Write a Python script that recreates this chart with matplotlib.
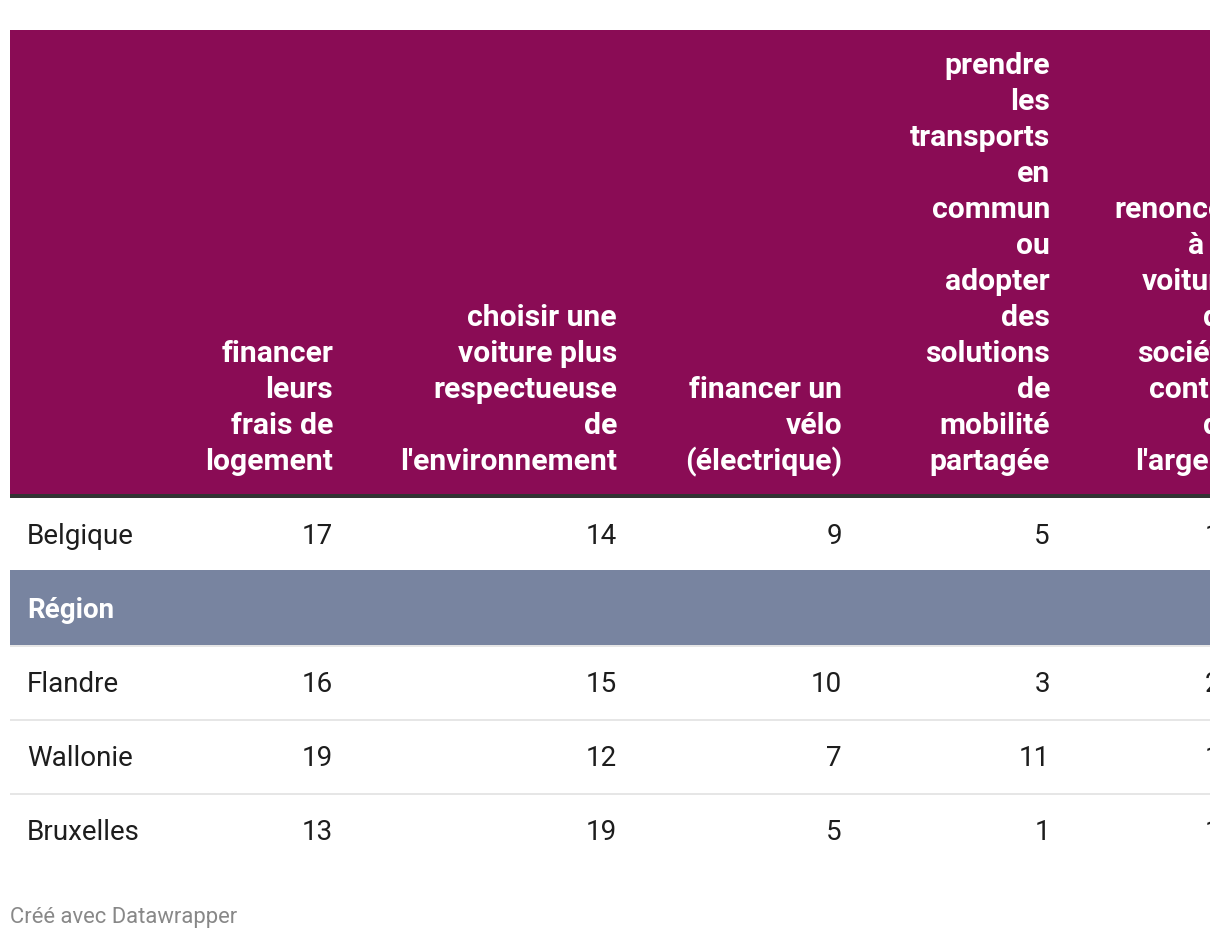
#Datawrapper-style table: share (%) per region, cut at the right edge like the original
import matplotlib.pyplot as plt
from matplotlib.patches import Rectangle

plt.rcParams['font.family'] = ['Roboto', 'DejaVu Sans']

#data:
headers = [
    ["financer", "leurs", "frais de", "logement"],
    ["choisir une", "voiture plus", "respectueuse", "de", "l'environnement"],
    ["financer un", "vélo", "(électrique)"],
    ["prendre", "les", "transports", "en", "commun", "ou", "adopter", "des",
     "solutions", "de", "mobilité", "partagée"],
    ["renoncer", "à la", "voiture", "de", "société", "contre", "de", "l'argent"],
]
belgique = ["Belgique", 17, 14, 9, 5, 11]
group_label = "Région"
regions = ["Flandre", "Wallonie", "Bruxelles"]
flandre = [16, 15, 10, 3, 21]
wallonie = [19, 12, 7, 11, 12]
bruxelles = [13, 19, 5, 1, 12]
region_values = [flandre, wallonie, bruxelles]
footer = "Créé avec Datawrapper"

#layout (pixels)
W, H = 1220, 942
left, right = 10, 1210
col_right = [333, 617, 842, 1050, 1236]
label_x = 27
head_top, head_bottom = 30, 494
line_gap = 36
fs = 20
fs_head = 21.7

fig = plt.figure(figsize=(W / 100, H / 100), dpi=100)
ax = fig.add_axes([0, 0, right / W, 1])
ax.set_xlim(0, right)
ax.set_ylim(H, 0)
ax.axis("off")

#header block
ax.add_patch(Rectangle((left, head_top), right - left, head_bottom - head_top,
                       color="#8a0c55", lw=0))
ax.add_patch(Rectangle((left, head_bottom), right - left, 4, color="#333333", lw=0))
for lines, xr in zip(headers, col_right):
    for i, line in enumerate(reversed(lines)):
        ax.text(xr, 470 - i * line_gap, line, ha="right", va="baseline",
                color="white", fontsize=fs_head, fontweight="bold", clip_on=True)

def row(y_center, label, values, color="#1d1d1d"):
    base = y_center + 10
    ax.text(label_x, base, label, ha="left", va="baseline", fontsize=fs,
            color=color, clip_on=True)
    for v, xr in zip(values, col_right):
        ax.text(xr, base, str(v), ha="right", va="baseline", fontsize=fs,
                color=color, clip_on=True)

row(534, belgique[0], belgique[1:])

#group band
ax.add_patch(Rectangle((left, 570), right - left, 75, color="#7884a0", lw=0))
ax.text(label_x, 618, group_label, ha="left", va="baseline", fontsize=fs,
        fontweight="bold", color="white")
ax.add_patch(Rectangle((left, 645), right - left, 1.5, color="#e6e6e6", lw=0))

for i, (name, vals) in enumerate(zip(regions, region_values)):
    yc = 682 + i * 74
    row(yc, name, vals)
    if i < len(regions) - 1:
        ax.add_patch(Rectangle((left, yc + 37), right - left, 1.5,
                               color="#e6e6e6", lw=0))

fig.text(10 / W, 1 - 918 / H, footer, ha="left", va="center", fontsize=15.8,
         color="#888888")

fig.savefig("out.png", dpi=100)
